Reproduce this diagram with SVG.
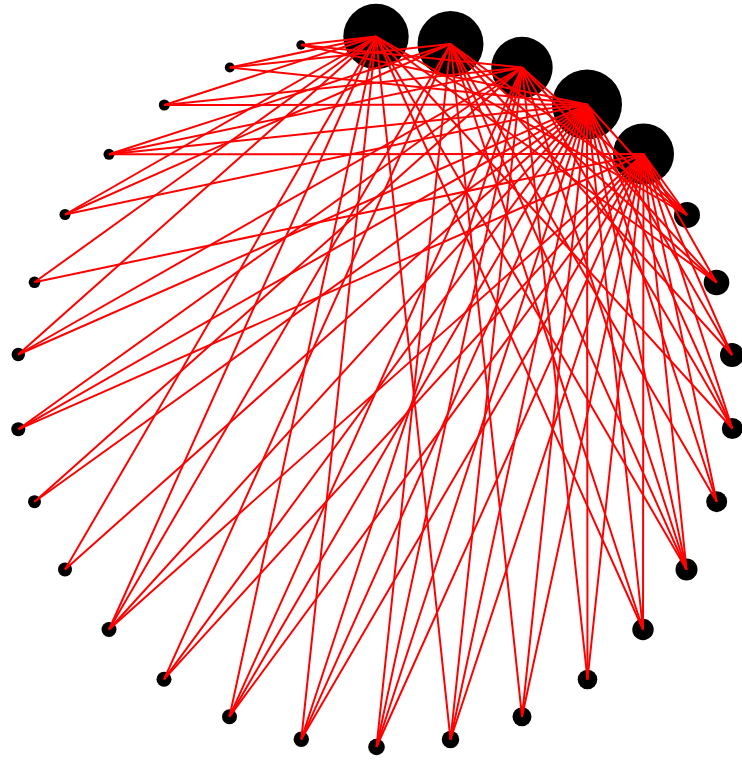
<svg xmlns="http://www.w3.org/2000/svg" width="742" height="760" viewBox="0 0 742 760">
<style>
.n{fill:#000}
.e line{stroke:#ff0000;stroke-width:2}
</style>
<rect width="742" height="760" fill="#fff"/>
<g id="nodes">
<g id="h0"><circle class="n" cx="376" cy="36.5" r="32.7"/></g>
<g id="h1"><circle class="n" cx="450.5" cy="44" r="33"/></g>
<g id="h2"><circle class="n" cx="522" cy="67.5" r="30.7"/></g>
<g id="h3"><circle class="n" cx="587" cy="104.5" r="35"/></g>
<g id="h4"><circle class="n" cx="643.5" cy="154" r="30.5"/></g>
<g id="n5"><circle class="n" cx="687" cy="215" r="13"/></g>
<g id="n6"><circle class="n" cx="716.5" cy="282.5" r="12.8"/></g>
<g id="n7"><circle class="n" cx="732" cy="355" r="12"/></g>
<g id="n8"><circle class="n" cx="732.3" cy="428.5" r="10.5"/></g>
<g id="n9"><circle class="n" cx="716.7" cy="501.7" r="10.5"/></g>
<g id="n10"><circle class="n" cx="686.5" cy="569.5" r="11"/></g>
<g id="n11"><circle class="n" cx="643" cy="629.5" r="10.7"/></g>
<g id="n12"><circle class="n" cx="587.5" cy="679.5" r="9.8"/></g>
<g id="n13"><circle class="n" cx="522" cy="716.7" r="9.5"/></g>
<g id="n14"><circle class="n" cx="450.5" cy="739.5" r="8.7"/></g>
<g id="n15"><circle class="n" cx="376.5" cy="747" r="8.3"/></g>
<g id="n16"><circle class="n" cx="301.3" cy="739.3" r="7.7"/></g>
<g id="n17"><circle class="n" cx="229.5" cy="716.7" r="7.5"/></g>
<g id="n18"><circle class="n" cx="164" cy="679.3" r="7.5"/></g>
<g id="n19"><circle class="n" cx="109" cy="629.5" r="7.5"/></g>
<g id="n20"><circle class="n" cx="65" cy="569.5" r="7"/></g>
<g id="n21"><circle class="n" cx="34.5" cy="501.7" r="6.5"/></g>
<g id="n22"><circle class="n" cx="18.3" cy="429.3" r="7"/></g>
<g id="n23"><circle class="n" cx="18.3" cy="354.5" r="6.7"/></g>
<g id="n24"><circle class="n" cx="34.5" cy="282.3" r="5.8"/></g>
<g id="n25"><circle class="n" cx="65" cy="214.5" r="5.5"/></g>
<g id="n26"><circle class="n" cx="109" cy="154.3" r="5.5"/></g>
<g id="n27"><circle class="n" cx="164.3" cy="105" r="5.5"/></g>
<g id="n28"><circle class="n" cx="229.8" cy="67.5" r="5"/></g>
<g id="n29"><circle class="n" cx="301" cy="45" r="4.7"/></g>
</g>
<g id="edges" class="e">
<line x1="687" y1="215" x2="376" y2="36.5"/><line x1="687" y1="215" x2="450.5" y2="44"/><line x1="687" y1="215" x2="522" y2="67.5"/><line x1="687" y1="215" x2="587" y2="104.5"/><line x1="687" y1="215" x2="643.5" y2="154"/>
<line x1="716.5" y1="282.5" x2="376" y2="36.5"/><line x1="716.5" y1="282.5" x2="450.5" y2="44"/><line x1="716.5" y1="282.5" x2="522" y2="67.5"/><line x1="716.5" y1="282.5" x2="643.5" y2="154"/>
<line x1="732" y1="355" x2="450.5" y2="44"/><line x1="732" y1="355" x2="587" y2="104.5"/><line x1="732" y1="355" x2="643.5" y2="154"/>
<line x1="732.3" y1="428.5" x2="376" y2="36.5"/><line x1="732.3" y1="428.5" x2="522" y2="67.5"/><line x1="732.3" y1="428.5" x2="587" y2="104.5"/><line x1="732.3" y1="428.5" x2="643.5" y2="154"/>
<line x1="716.7" y1="501.7" x2="450.5" y2="44"/><line x1="716.7" y1="501.7" x2="587" y2="104.5"/><line x1="716.7" y1="501.7" x2="643.5" y2="154"/>
<line x1="686.5" y1="569.5" x2="376" y2="36.5"/><line x1="686.5" y1="569.5" x2="450.5" y2="44"/><line x1="686.5" y1="569.5" x2="522" y2="67.5"/><line x1="686.5" y1="569.5" x2="587" y2="104.5"/><line x1="686.5" y1="569.5" x2="643.5" y2="154"/>
<line x1="643" y1="629.5" x2="376" y2="36.5"/><line x1="643" y1="629.5" x2="450.5" y2="44"/><line x1="643" y1="629.5" x2="587" y2="104.5"/><line x1="643" y1="629.5" x2="643.5" y2="154"/>
<line x1="587.5" y1="679.5" x2="522" y2="67.5"/><line x1="587.5" y1="679.5" x2="587" y2="104.5"/><line x1="587.5" y1="679.5" x2="643.5" y2="154"/>
<line x1="522" y1="716.7" x2="450.5" y2="44"/><line x1="522" y1="716.7" x2="587" y2="104.5"/><line x1="522" y1="716.7" x2="643.5" y2="154"/>
<line x1="450.5" y1="739.5" x2="376" y2="36.5"/><line x1="450.5" y1="739.5" x2="522" y2="67.5"/><line x1="450.5" y1="739.5" x2="587" y2="104.5"/><line x1="450.5" y1="739.5" x2="643.5" y2="154"/>
<line x1="376.5" y1="747" x2="450.5" y2="44"/><line x1="376.5" y1="747" x2="522" y2="67.5"/><line x1="376.5" y1="747" x2="587" y2="104.5"/><line x1="376.5" y1="747" x2="643.5" y2="154"/>
<line x1="301.3" y1="739.3" x2="376" y2="36.5"/><line x1="301.3" y1="739.3" x2="522" y2="67.5"/><line x1="301.3" y1="739.3" x2="587" y2="104.5"/><line x1="301.3" y1="739.3" x2="643.5" y2="154"/>
<line x1="229.5" y1="716.7" x2="376" y2="36.5"/><line x1="229.5" y1="716.7" x2="522" y2="67.5"/><line x1="229.5" y1="716.7" x2="587" y2="104.5"/><line x1="229.5" y1="716.7" x2="643.5" y2="154"/>
<line x1="164" y1="679.3" x2="450.5" y2="44"/><line x1="164" y1="679.3" x2="587" y2="104.5"/><line x1="164" y1="679.3" x2="643.5" y2="154"/>
<line x1="109" y1="629.5" x2="376" y2="36.5"/><line x1="109" y1="629.5" x2="450.5" y2="44"/><line x1="109" y1="629.5" x2="587" y2="104.5"/><line x1="109" y1="629.5" x2="643.5" y2="154"/>
<line x1="65" y1="569.5" x2="376" y2="36.5"/><line x1="65" y1="569.5" x2="587" y2="104.5"/>
<line x1="34.5" y1="501.7" x2="522" y2="67.5"/><line x1="34.5" y1="501.7" x2="587" y2="104.5"/>
<line x1="18.3" y1="429.3" x2="522" y2="67.5"/><line x1="18.3" y1="429.3" x2="587" y2="104.5"/><line x1="18.3" y1="429.3" x2="643.5" y2="154"/>
<line x1="18.3" y1="354.5" x2="376" y2="36.5"/><line x1="18.3" y1="354.5" x2="522" y2="67.5"/><line x1="18.3" y1="354.5" x2="587" y2="104.5"/>
<line x1="34.5" y1="282.3" x2="376" y2="36.5"/><line x1="34.5" y1="282.3" x2="643.5" y2="154"/>
<line x1="65" y1="214.5" x2="376" y2="36.5"/><line x1="65" y1="214.5" x2="450.5" y2="44"/><line x1="65" y1="214.5" x2="587" y2="104.5"/>
<line x1="109" y1="154.3" x2="450.5" y2="44"/><line x1="109" y1="154.3" x2="522" y2="67.5"/><line x1="109" y1="154.3" x2="587" y2="104.5"/><line x1="109" y1="154.3" x2="643.5" y2="154"/>
<line x1="164.3" y1="105" x2="376" y2="36.5"/><line x1="164.3" y1="105" x2="522" y2="67.5"/><line x1="164.3" y1="105" x2="587" y2="104.5"/>
<line x1="229.8" y1="67.5" x2="376" y2="36.5"/><line x1="229.8" y1="67.5" x2="450.5" y2="44"/><line x1="229.8" y1="67.5" x2="587" y2="104.5"/>
<line x1="301" y1="45" x2="376" y2="36.5"/><line x1="301" y1="45" x2="522" y2="67.5"/><line x1="301" y1="45" x2="587" y2="104.5"/>
</g>
</svg>
